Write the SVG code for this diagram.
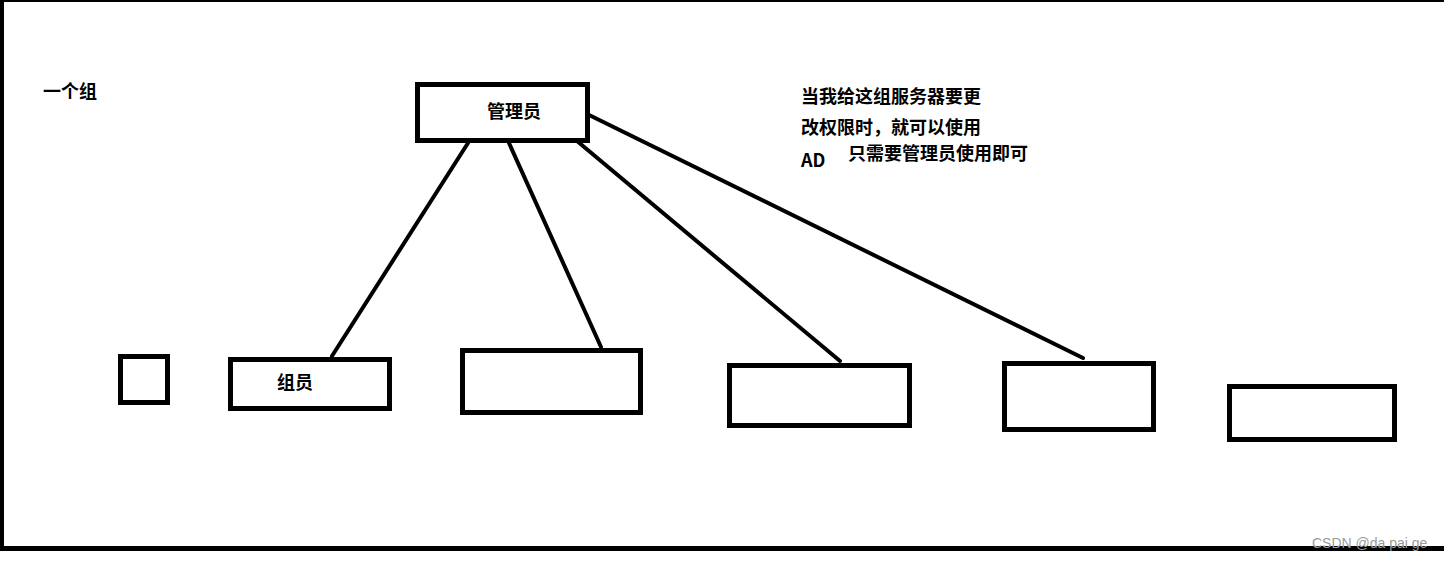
<svg xmlns="http://www.w3.org/2000/svg" width="1444" height="561" viewBox="0 0 1444 561">
<style>
.box{fill:#fff;stroke:#000;stroke-width:5}
.conn{stroke:#000;stroke-width:4;stroke-linecap:round;fill:none}
.t{font-family:"Noto Sans CJK SC","Liberation Sans",sans-serif;font-weight:bold;font-size:18px;fill:#000}
.wm{font-family:"Liberation Sans","Noto Sans",sans-serif;font-size:14px;fill:#9a9a9a}
</style>
<rect x="0" y="0" width="1444" height="561" fill="#fff"/>
<g id="frame">
<rect x="0" y="0" width="1444" height="2" fill="#000"/>
<rect x="0" y="0" width="4" height="551" fill="#000"/>
<rect x="0" y="546" width="1444" height="5" fill="#000"/>
</g>
<g id="connectors">
<line class="conn" x1="468" y1="143" x2="332" y2="356"/>
<line class="conn" x1="509" y1="143" x2="601" y2="347"/>
<line class="conn" x1="577" y1="141" x2="840" y2="361"/>
<line class="conn" x1="585" y1="113" x2="1083" y2="358"/>
</g>
<g id="manager">
<rect class="box" x="417.5" y="84.5" width="170" height="56"/>
<text class="t" x="514" y="118" text-anchor="middle">管理员</text>
</g>
<g id="small-box">
<rect class="box" x="120.5" y="356.5" width="47" height="46"/>
</g>
<g id="member">
<rect class="box" x="230.5" y="359.5" width="159" height="49"/>
<text class="t" x="295" y="389" text-anchor="middle">组员</text>
</g>
<g id="server2">
<rect class="box" x="462.5" y="350.5" width="178" height="62"/>
</g>
<g id="server3">
<rect class="box" x="729.5" y="365.5" width="180" height="60"/>
</g>
<g id="server4">
<rect class="box" x="1004.5" y="363.5" width="149" height="66"/>
</g>
<g id="server5">
<rect class="box" x="1229.5" y="386.5" width="165" height="53"/>
</g>
<g id="labels">
<text class="t" x="43" y="98">一个组</text>
<text class="t" x="801" y="103">当我给这组服务器要更</text>
<text class="t" x="801" y="134">改权限时，就可以使用</text>
<text class="t" x="801" y="167">AD</text>
<text class="t" x="848" y="160">只需要管理员使用即可</text>
<text class="wm" x="1312" y="548">CSDN @da pai ge</text>
</g>
</svg>
